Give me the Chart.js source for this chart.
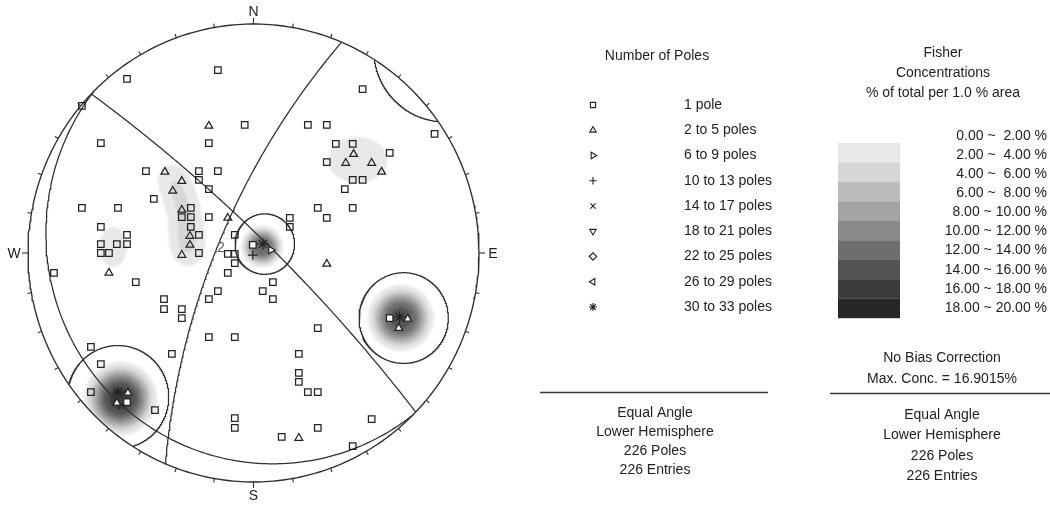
<!DOCTYPE html>
<html>
<head>
<meta charset="utf-8">
<script src="https://cdn.jsdelivr.net/npm/chart.js@4.4.1/dist/chart.umd.min.js"></script>
<style>
  html, body { margin: 0; padding: 0; background: #fff; }
  canvas { display: block; }
</style>
</head>
<body>
<canvas id="net" width="1050" height="507"></canvas>
<script>
// Poles by count class, in equal-angle net coordinates (x = east, y = north, primitive radius = 1)
const poles1 = [
  [-0.158, 0.799], [-0.561, 0.760], [-0.761, 0.642], [-0.039, 0.559], [-0.677, 0.480], [-0.198, 0.480],
  [-0.477, 0.358], [-0.242, 0.358], [-0.158, 0.358], [-0.242, 0.319], [-0.198, 0.279], [-0.442, 0.236],
  [-0.761, 0.197], [-0.601, 0.197], [-0.278, 0.197], [-0.318, 0.157], [-0.278, 0.157], [-0.198, 0.157],
  [-0.677, 0.114], [-0.278, 0.114], [-0.242, 0.079], [-0.083, 0.079], [-0.561, 0.079], [-0.677, 0.039],
  [-0.606, 0.039], [-0.561, 0.039], [-0.677, 0.000], [-0.641, 0.000], [-0.242, 0.000], [-0.114, -0.004],
  [-0.083, -0.004], [-0.003, 0.035], [-0.083, -0.044], [-0.885, -0.087], [-0.114, -0.087], [-0.522, -0.127],
  [-0.158, -0.166], [-0.397, -0.201], [-0.198, -0.201], [-0.397, -0.245], [-0.318, -0.245], [-0.318, -0.284],
  [-0.198, -0.367], [-0.083, -0.367], [-0.721, -0.410], [-0.362, -0.441], [-0.677, -0.485], [-0.721, -0.607],
  [-0.437, -0.686], [-0.083, -0.721], [-0.083, -0.764],
  [0.484, 0.716], [0.241, 0.559], [0.325, 0.559], [0.803, 0.520], [0.365, 0.476], [0.440, 0.476],
  [0.604, 0.437], [0.325, 0.397], [0.440, 0.319], [0.484, 0.319], [0.405, 0.279], [0.285, 0.197],
  [0.440, 0.197], [0.325, 0.153], [0.161, 0.153], [0.161, 0.114],
  [0.086, -0.127], [0.041, -0.166], [0.086, -0.201], [0.285, -0.328], [0.201, -0.441], [0.201, -0.524],
  [0.201, -0.563], [0.241, -0.607], [0.285, -0.607], [0.524, -0.725], [0.285, -0.764], [0.125, -0.803],
  [0.440, -0.843], [0.604, -0.284], [-0.561, -0.651]
];
const poles2to5 = [
  [-0.198, 0.555], [-0.393, 0.354], [-0.318, 0.314], [-0.358, 0.271], [-0.318, 0.188], [-0.114, 0.153],
  [-0.282, 0.074], [-0.282, 0.035], [-0.318, -0.009], [-0.641, -0.087], [0.444, 0.432], [0.409, 0.393],
  [0.524, 0.393], [0.568, 0.354], [0.325, -0.048], [0.201, -0.808], [-0.557, -0.611], [-0.606, -0.655],
  [0.684, -0.288], [0.644, -0.328]
];
const poles6to9 = [[0.077, 0.013]];
const poles10to13 = [[-0.003, -0.009], [-0.597, -0.664]];
const poles30to33 = [[0.041, 0.039], [-0.601, -0.607], [0.648, -0.279]];

// Planes: dip direction and dip (degrees)
const planeDipDir = [44, 293, 225];
const planeDip = [82, 72, 7];

// Confidence cones: centre and radius, net units
const coneX = [0.050, 0.666, -0.601];
const coneY = [0.039, -0.284, -0.629];
const coneR = [0.132, 0.198, 0.225];

// Fisher concentration peaks (% of total per 1 % area): centre, spread (net units) and profile exponent
const maxConc = 16.9015;
const peakX = [-0.590, 0.653, 0.038, -0.623, 0.462, -0.362, -0.327, -0.300, -0.296, -0.291];
const peakY = [-0.636, -0.284, 0.028, 0.026, 0.406, 0.332, 0.249, 0.162, 0.074, 0.000];
const peakValue = [maxConc, 15, 14, 3, 3, 2.7, 2.7, 2.7, 2.7, 2.7];
const peakSpreadX = [0.100, 0.092, 0.059, 0.069, 0.147, 0.060, 0.060, 0.060, 0.060, 0.060];
const peakSpreadY = [0.099, 0.091, 0.058, 0.097, 0.111, 0.060, 0.060, 0.060, 0.060, 0.060];
const peakShape = [3, 3, 3, 2, 2, 2, 2, 2, 2, 2];

// Legend texts
const poleClassLabels = ['1 pole', '2 to 5 poles', '6 to 9 poles', '10 to 13 poles', '14 to 17 poles',
  '18 to 21 poles', '22 to 25 poles', '26 to 29 poles', '30 to 33 poles'];
const concBandLabels = ['0.00 ~  2.00 %', '2.00 ~  4.00 %', '4.00 ~  6.00 %', '6.00 ~  8.00 %', '8.00 ~ 10.00 %',
  '10.00 ~ 12.00 %', '12.00 ~ 14.00 %', '14.00 ~ 16.00 %', '16.00 ~ 18.00 %', '18.00 ~ 20.00 %'];
const concTitle = ['Fisher', 'Concentrations', '% of total per 1.0 % area'];
const concNotes = ['No Bias Correction', 'Max. Conc. = ' + maxConc.toFixed(4) + '%'];
const summaryLines = ['Equal Angle', 'Lower Hemisphere', '226 Poles', '226 Entries'];
const directionLabels = ['N', 'E', 'S', 'W'];
const setLabels = [{ text: '2', x: -0.145, y: 0.022 }];

// Styling
const BAND_STEP = 2;
const bandGreys = [null, '#e8e8e8', '#d6d6d6', '#bcbcbc', '#a3a3a3', '#898989', '#6e6e6e', '#545454', '#3c3c3c', '#262626'];
const classSymbols = [
  { style: 'rect', rot: 0, size: 4.6 }, { style: 'triangle', rot: 0, size: 4.5 }, { style: 'triangle', rot: 90, size: 4.3 },
  { style: 'cross', rot: 0, size: 4.8 }, { style: 'crossRot', rot: 0, size: 4 }, { style: 'triangle', rot: 180, size: 4 },
  { style: 'rectRot', rot: 0, size: 4 }, { style: 'triangle', rot: 270, size: 4 }, { style: 'star', rot: 0, size: 5.8 }
];
const INK = '#222222';
const LINE = '#2e2e2e';
const FONT = '14px "Liberation Sans", Arial, sans-serif';
const RAD = Math.PI / 180;

const toXY = arr => arr.map(p => ({ x: p[0], y: p[1] }));

function lineDataset(pts, width) {
  return {
    type: 'scatter', data: pts, showLine: true, pointRadius: 0, borderColor: LINE,
    borderWidth: width || 1.25, tension: 0, fill: false, clip: false, order: 2
  };
}

// Great circle of a plane, lower hemisphere, equal-angle projection
function greatCircle(dipDir, dip) {
  const f = dipDir * RAD, d = dip * RAD;
  const s = [Math.sin(f - Math.PI / 2), Math.cos(f - Math.PI / 2), 0];
  const v = [Math.sin(f) * Math.cos(d), Math.cos(f) * Math.cos(d), Math.sin(d)];
  const pts = [];
  for (let a = 0; a <= 180; a += 1) {
    const c = Math.cos(a * RAD), sn = Math.sin(a * RAD);
    const e = c * s[0] + sn * v[0], n = c * s[1] + sn * v[1], z = c * s[2] + sn * v[2];
    pts.push({ x: e / (1 + z), y: n / (1 + z) });
  }
  return pts;
}

// Small circle; any part beyond the primitive is carried to the antipode
function coneSegments(cx, cy, r) {
  const n = 720, samples = [];
  for (let i = 0; i < n; i++) {
    const t = 2 * Math.PI * i / n;
    const x = cx + r * Math.cos(t), y = cy + r * Math.sin(t);
    samples.push({ x, y, inside: x * x + y * y <= 1 });
  }
  let start = samples.findIndex((p, i) => p.inside !== samples[(i - 1 + n) % n].inside);
  if (start < 0) start = 0;
  const segs = [];
  let cur = null;
  for (let k = 0; k <= n; k++) {
    const p = samples[(start + k) % n];
    const q = p.x * p.x + p.y * p.y;
    const m = p.inside ? { x: p.x, y: p.y } : { x: -p.x / q, y: -p.y / q };
    if (!cur || cur.inside !== p.inside) {
      if (cur && cur.pts.length) {
        const l = Math.sqrt(q), sgn = cur.inside ? 1 : -1;
        cur.pts.push({ x: sgn * p.x / l, y: sgn * p.y / l });
      }
      cur = { inside: p.inside, pts: [] };
      segs.push(cur);
      if (k > 0) {
        const l = Math.sqrt(q), sgn = p.inside ? 1 : -1;
        cur.pts.push({ x: sgn * p.x / l, y: sgn * p.y / l });
      }
    }
    cur.pts.push(m);
  }
  return segs.filter(s => s.pts.length > 1).map(s => s.pts);
}

function concentrationAt(vx, vy) {
  let d = 0;
  for (let k = 0; k < peakX.length; k++) {
    const u = (vx - peakX[k]) / peakSpreadX[k], w = (vy - peakY[k]) / peakSpreadY[k];
    d += peakValue[k] * Math.exp(-0.5 * Math.pow(u * u + w * w, peakShape[k] / 2));
  }
  return d;
}

const datasets = [];
const primitive = [];
for (let t = 0; t <= 360; t += 1) primitive.push({ x: Math.sin(t * RAD), y: Math.cos(t * RAD) });
datasets.push(lineDataset(primitive, 1.35));
planeDipDir.forEach((dd, i) => datasets.push(lineDataset(greatCircle(dd, planeDip[i]))));
coneX.forEach((cx, i) => coneSegments(cx, coneY[i], coneR[i]).forEach(seg => datasets.push(lineDataset(seg))));

// Markers sitting on the darker shading get a white face so they stay readable
const markerFace = c => {
  const p = c.raw;
  return p && concentrationAt(p.x, p.y) > 6 ? '#ffffff' : 'rgba(255,255,255,0)';
};

const poleSets = [poles1, poles2to5, poles6to9, poles10to13, poles30to33];
const poleSetClass = [0, 1, 2, 3, 8];
poleSets.forEach((arr, i) => {
  const sym = classSymbols[poleSetClass[i]];
  datasets.push({
    type: 'scatter', data: toXY(arr), showLine: false, pointStyle: sym.style, pointRotation: sym.rot,
    pointRadius: sym.size, pointBorderColor: INK, pointBackgroundColor: markerFace, pointBorderWidth: 1.25,
    clip: false, order: 1
  });
});

// Contoured concentration field, filled band by band inside the primitive
const densityPlugin = {
  id: 'density',
  beforeDatasetsDraw(chart) {
    const { ctx, chartArea: a, width, height } = chart;
    const xs = chart.scales.x, ys = chart.scales.y;
    const layer = document.createElement('canvas');
    layer.width = width;
    layer.height = height;
    const lc = layer.getContext('2d');
    const x0 = Math.floor(a.left), x1 = Math.ceil(a.right);
    for (let py = Math.floor(a.top); py < Math.ceil(a.bottom); py++) {
      const vy = ys.getValueForPixel(py + 0.5);
      let runStart = x0, runBand = 0;
      for (let px = x0; px <= x1 + 1; px++) {
        let band = 0;
        if (px <= x1) {
          const vx = xs.getValueForPixel(px + 0.5);
          if (vx * vx + vy * vy <= 1) {
            band = Math.min(bandGreys.length - 1, Math.floor(concentrationAt(vx, vy) / BAND_STEP));
          }
        }
        if (band !== runBand) {
          if (runBand > 0) {
            lc.fillStyle = bandGreys[runBand];
            lc.fillRect(runStart, py, px - runStart, 1);
          }
          runStart = px;
          runBand = band;
        }
      }
    }
    ctx.save();
    ctx.filter = 'blur(1px)';
    ctx.drawImage(layer, 0, 0);
    ctx.restore();
  }
};

// Net frame (ticks, compass letters) and the legends
const annotationPlugin = {
  id: 'annotations',
  afterDraw(chart) {
    const { ctx } = chart;
    const xs = chart.scales.x, ys = chart.scales.y;
    const cx = xs.getPixelForValue(0), cy = ys.getPixelForValue(0);
    ctx.save();
    ctx.strokeStyle = LINE;
    ctx.lineWidth = 1.1;
    for (let t = 0; t < 360; t += 10) {
      const px = xs.getPixelForValue(Math.sin(t * RAD)), py = ys.getPixelForValue(Math.cos(t * RAD));
      const dx = px - cx, dy = py - cy, l = Math.hypot(dx, dy);
      const len = t % 90 === 0 ? 6 : 4;
      ctx.beginPath();
      ctx.moveTo(px, py);
      ctx.lineTo(px + dx / l * len, py + dy / l * len);
      ctx.stroke();
    }
    ctx.fillStyle = INK;
    ctx.font = FONT;
    ctx.textAlign = 'center';
    ctx.textBaseline = 'middle';
    directionLabels.forEach((lab, i) => {
      const t = i * 90;
      const px = xs.getPixelForValue(Math.sin(t * RAD)), py = ys.getPixelForValue(Math.cos(t * RAD));
      const dx = px - cx, dy = py - cy, l = Math.hypot(dx, dy);
      const off = (i % 2 === 0) ? 13 : 14;
      ctx.fillText(lab, px + dx / l * off, py + dy / l * off + 1);
    });
    ctx.fillStyle = '#6a5a5a';
    setLabels.forEach(s => ctx.fillText(s.text, xs.getPixelForValue(s.x), ys.getPixelForValue(s.y)));

    // Pole count legend
    ctx.fillStyle = INK;
    ctx.textAlign = 'center';
    ctx.fillText('Number of Poles', 657, 56);
    poleClassLabels.forEach((lab, i) => {
      const y = 105 + i * 25.25;
      const sym = classSymbols[i];
      ctx.fillStyle = '#ffffff';
      ctx.strokeStyle = INK;
      ctx.lineWidth = 1.1;
      Chart.helpers.drawPoint(ctx, { pointStyle: sym.style, rotation: sym.rot, radius: sym.style === 'star' ? 4 : 3.7, borderWidth: 1.1 }, 593, y);
      ctx.fillStyle = INK;
      ctx.textAlign = 'left';
      ctx.fillText(lab, 684, y);
    });

    // Concentration legend
    ctx.textAlign = 'center';
    concTitle.forEach((t, i) => ctx.fillText(t, 943, [53, 73, 93][i]));
    for (let k = 1; k < bandGreys.length; k++) {
      ctx.fillStyle = bandGreys[k];
      ctx.fillRect(838, 143 + (k - 1) * 19.45, 62, 19.6);
    }
    ctx.fillStyle = INK;
    ctx.textAlign = 'right';
    concBandLabels.forEach((t, i) => ctx.fillText(t, 1047, 136 + i * 19.1));

    // Summary blocks
    ctx.textAlign = 'center';
    ctx.fillText(concNotes[0], 942, 358);
    ctx.fillText(concNotes[1], 942, 379);
    summaryLines.forEach((t, i) => ctx.fillText(t, 655, 413 + i * 19));
    summaryLines.forEach((t, i) => ctx.fillText(t, 942, 415 + i * 20.4));
    ctx.strokeStyle = '#3a3a3a';
    ctx.lineWidth = 1.5;
    ctx.beginPath();
    ctx.moveTo(540, 392.5); ctx.lineTo(768, 392.5);
    ctx.moveTo(830, 393.5); ctx.lineTo(1050, 393.5);
    ctx.stroke();
    ctx.restore();
  }
};

new Chart(document.getElementById('net'), {
  type: 'scatter',
  data: { datasets },
  options: {
    responsive: false,
    animation: false,
    devicePixelRatio: 1,
    events: [],
    layout: { padding: { left: 28, right: 571, top: 24, bottom: 25 } },
    scales: {
      x: { type: 'linear', min: -1, max: 1, display: false },
      y: { type: 'linear', min: -1, max: 1, display: false }
    },
    plugins: { legend: { display: false }, tooltip: { enabled: false } }
  },
  plugins: [densityPlugin, annotationPlugin]
});
</script>
</body>
</html>
